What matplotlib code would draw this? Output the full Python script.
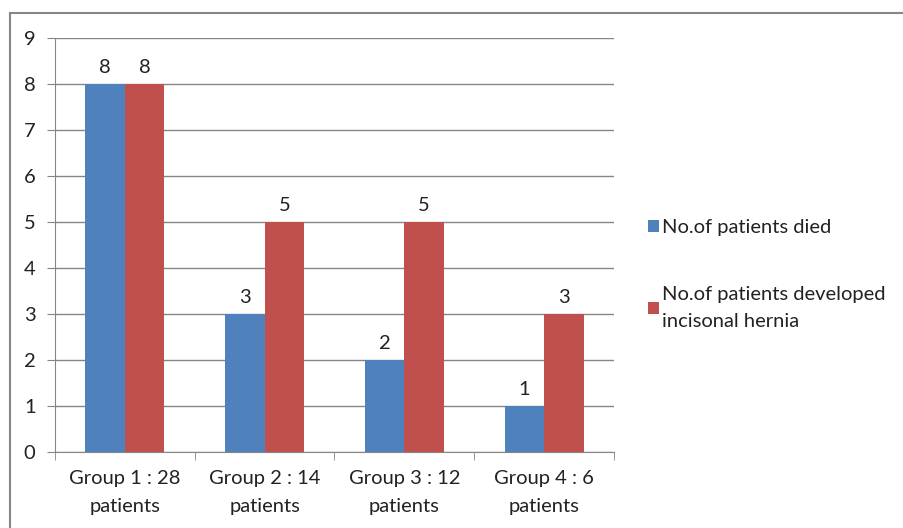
import matplotlib.pyplot as plt
import numpy as np
from matplotlib.patches import Rectangle

groups = ['Group 1 : 28\npatients', 'Group 2 : 14\npatients',
          'Group 3 : 12\npatients', 'Group 4 : 6\npatients']
died = [8, 3, 2, 1]
hernia = [8, 5, 5, 3]
labels = ['No.of patients died', 'No.of patients developed\nincisonal hernia']

plt.rcParams['font.family'] = ['Lato', 'DejaVu Sans']
plt.rcParams['font.size'] = 14.5

W, H = 904, 528
fig = plt.figure(figsize=(W / 100, H / 100), dpi=100)
# outer chart frame (runs off the right and bottom edges)
fig.add_artist(Rectangle((10 / W, -0.1), 1.2, 1 - 13 / H + 0.1, transform=fig.transFigure,
                         fill=False, edgecolor='#878787', linewidth=1.5))

ax = fig.add_axes([55 / W, 1 - 452 / H, (614 - 55) / W, (452 - 38) / H])

x = np.arange(len(groups))
w = 0.283
b1 = ax.bar(x - w / 2, died, w, color='#4f81bd', label=labels[0], zorder=3)
b2 = ax.bar(x + w / 2, hernia, w, color='#c0504d', label=labels[1], zorder=3)
ax.bar_label(b1, padding=6, color='#222222')
ax.bar_label(b2, padding=6, color='#222222')

ax.set_xlim(-0.5, len(groups) - 0.5)
ax.set_ylim(0, 9)
ax.set_yticks(range(10))
ax.yaxis.grid(True, color='#868686', linewidth=1, zorder=0)
ax.set_xticks(x)
ax.set_xticklabels(groups, color='#222222', linespacing=1.75)
ax.set_xticks(np.arange(-0.5, len(groups)), minor=True)
ax.tick_params(axis='x', which='major', length=0, pad=13)
ax.tick_params(axis='x', which='minor', length=6, color='#868686')
ax.tick_params(axis='y', length=6, color='#868686', pad=8, labelcolor='#222222')
for s in ['top', 'right']:
    ax.spines[s].set_visible(False)
for s in ['left', 'bottom']:
    ax.spines[s].set_color('#868686')

leg = ax.legend(loc='upper left', bbox_to_anchor=(648 / W, 1 - 219 / H), bbox_transform=fig.transFigure,
                frameon=False, handlelength=0.55, handleheight=0.55, handletextpad=0.15,
                labelspacing=2.5, borderaxespad=0, borderpad=0)
for t in leg.get_texts():
    t.set_linespacing(1.7)
    t.set_color('#222222')

fig.savefig('out.png', dpi=100)
